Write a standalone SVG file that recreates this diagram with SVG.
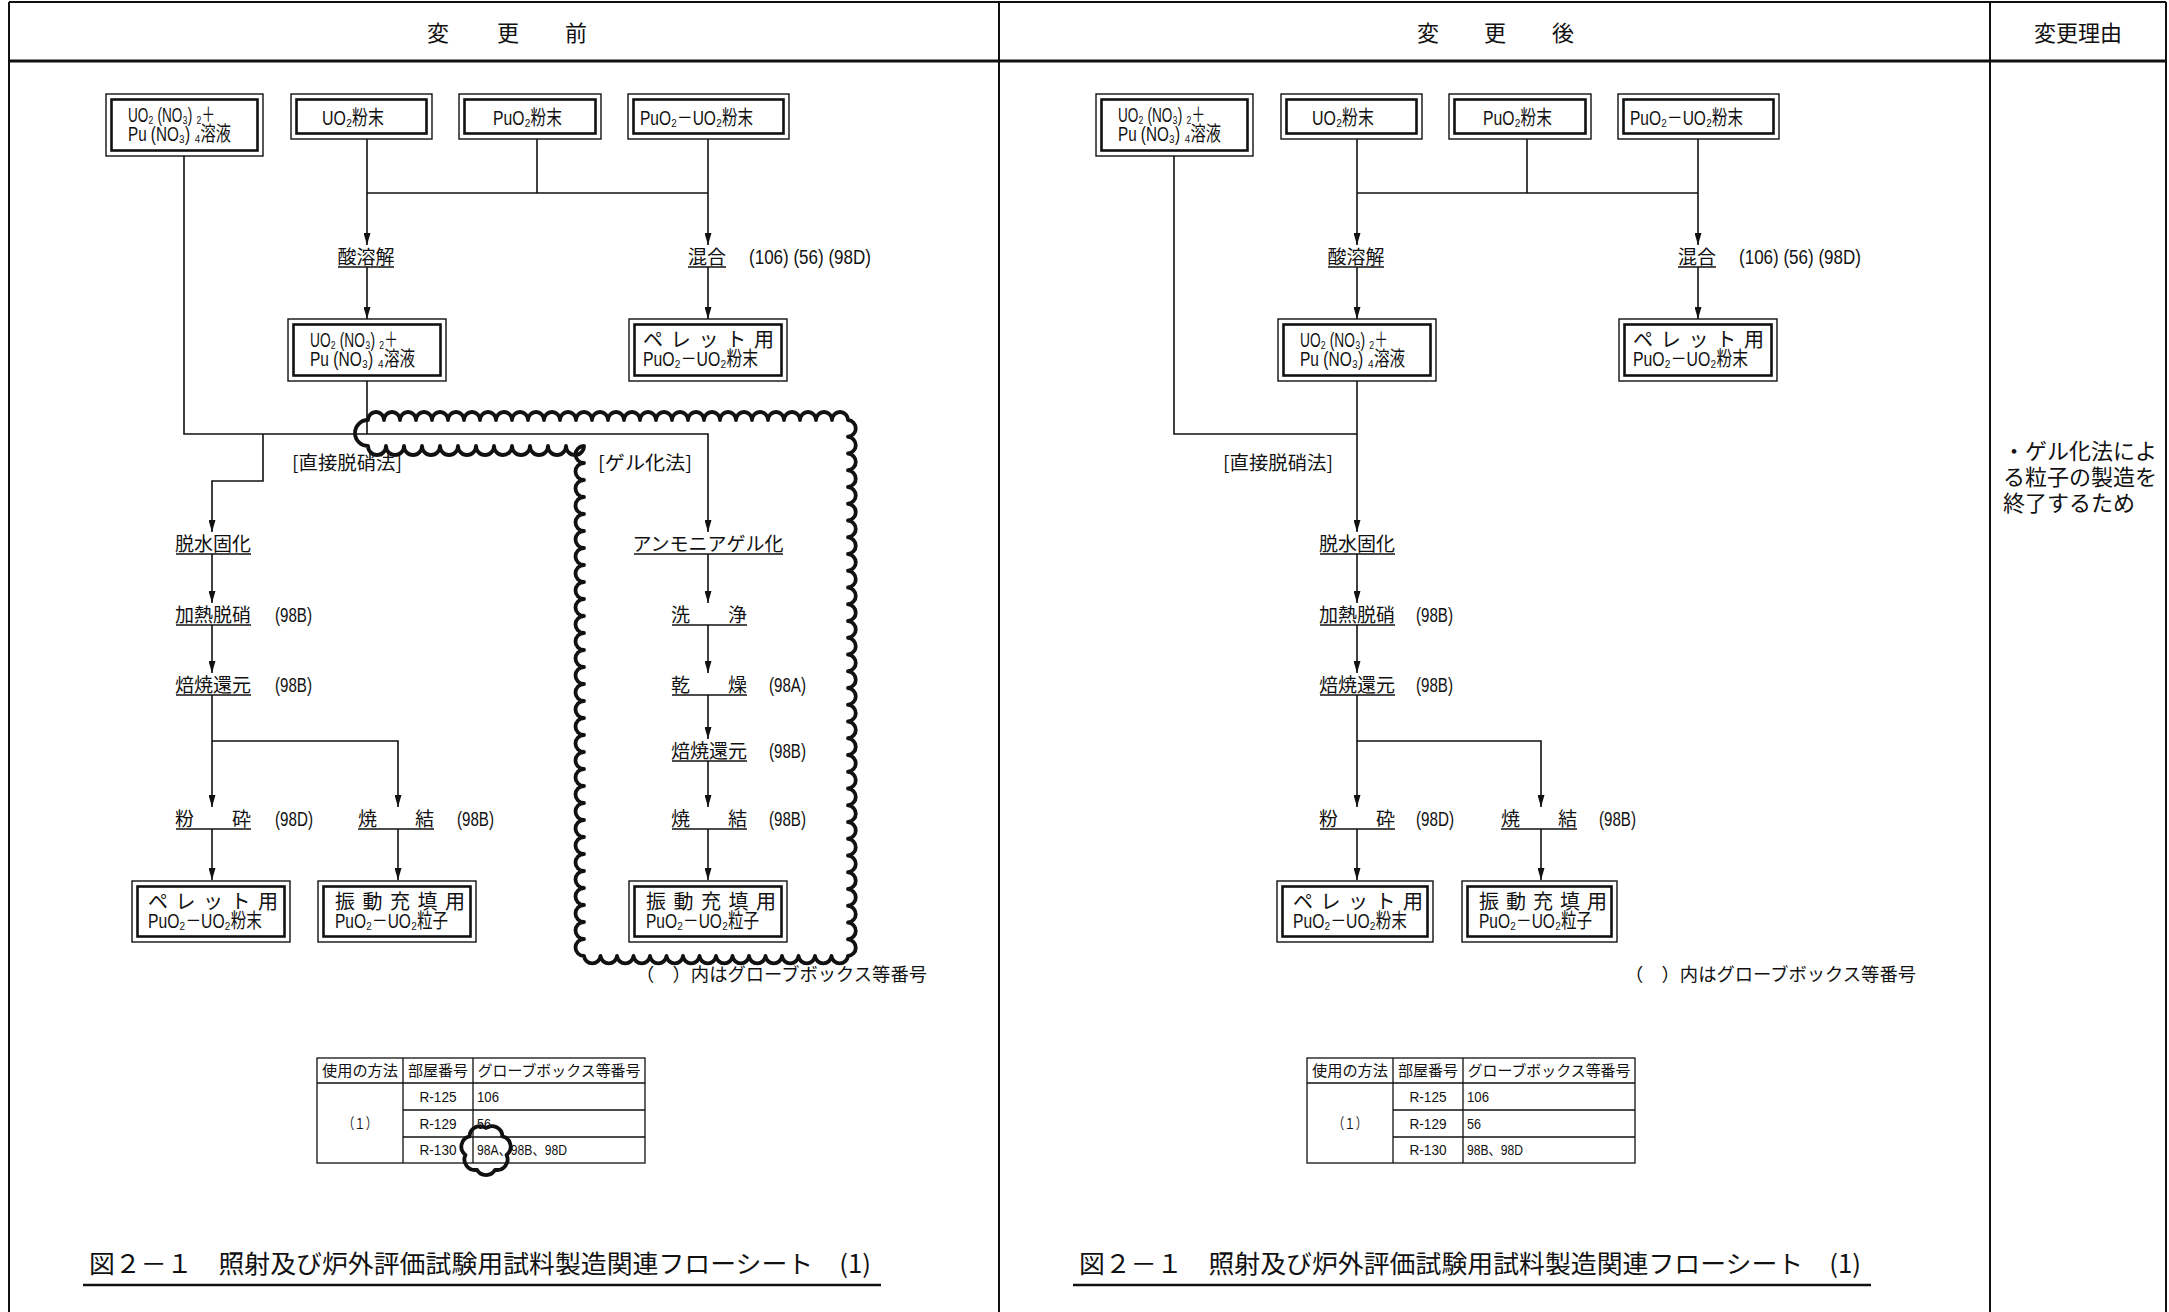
<svg xmlns="http://www.w3.org/2000/svg" width="2169" height="1312" viewBox="0 0 2169 1312">
<defs>
<style>
.fr{fill:none;stroke:#111;stroke-width:2}
.bo{fill:#fff;stroke:#111;stroke-width:1.4}
.bi{fill:none;stroke:#111;stroke-width:2.6}
.c{fill:none;stroke:#111;stroke-width:1.6}
.ul{stroke:#111;stroke-width:1.6}
.t{font-family:"Liberation Sans","DejaVu Sans","Noto Sans CJK JP",sans-serif;fill:#111}
.j{font-family:"Noto Sans CJK JP","Noto Sans",sans-serif;fill:#111}
.lb{font-size:19px}
.bx{font-size:20px}
.cd{font-size:20px}
.hd{font-size:22px}
.tb{font-size:15px}
.cap{font-size:25px}
.cl{fill:none;stroke:#111;stroke-width:3.8;stroke-linejoin:round}
.tl{fill:none;stroke:#111;stroke-width:1.3}
</style>
<marker id="ah" viewBox="0 0 12 7" refX="12" refY="3.5" markerWidth="12" markerHeight="7" markerUnits="userSpaceOnUse" orient="auto"><path d="M0,0 L12,3.5 L0,7 z" fill="#111"/></marker>
</defs>
<rect width="2169" height="1312" fill="#fff"/>

<g id="frame">
<path class="fr" d="M9,2 H2166 M9,2 V1312 M999,2 V1312 M1990,2 V1312 M2166,2 V1312"/>
<path d="M9,61 H2166" stroke="#111" stroke-width="3"/>
<text class="j hd" x="438 508 576" y="41" text-anchor="middle">変更前</text>
<text class="j hd" x="1428 1495 1563" y="41" text-anchor="middle">変更後</text>
<text class="j hd" x="2078" y="41" text-anchor="middle">変更理由</text>
</g>

<g id="reason">
<text class="j hd" x="2003" y="459">・ゲル化法によ</text>
<text class="j hd" x="2003" y="485">る粒子の製造を</text>
<text class="j hd" x="2003" y="511">終了するため</text>
</g>

<!-- ===== BEFORE ===== -->
<g id="connectors-before" class="c">
<path d="M367,139 V245" marker-end="url(#ah)"/>
<path d="M537,139 V193"/>
<path d="M708,139 V245" marker-end="url(#ah)"/>
<path d="M367,193 H708"/>
<path d="M367,267 V319" marker-end="url(#ah)"/>
<path d="M708,267 V319" marker-end="url(#ah)"/>
<path d="M184,156 V434 H708 V532" marker-end="url(#ah)"/>
<path d="M367,381 V434"/>
<path d="M263,434 V481 H212 V532" marker-end="url(#ah)"/>
<path d="M212,554 V603" marker-end="url(#ah)"/>
<path d="M212,625 V673" marker-end="url(#ah)"/>
<path d="M212,695 V807" marker-end="url(#ah)"/>
<path d="M212,741 H398 V807" marker-end="url(#ah)"/>
<path d="M212,829 V880" marker-end="url(#ah)"/>
<path d="M398,829 V880" marker-end="url(#ah)"/>
<path d="M708,554 V603" marker-end="url(#ah)"/>
<path d="M708,625 V673" marker-end="url(#ah)"/>
<path d="M708,695 V739" marker-end="url(#ah)"/>
<path d="M708,761 V807" marker-end="url(#ah)"/>
<path d="M708,829 V880" marker-end="url(#ah)"/>
</g>

<g id="b-solution-in">
<rect class="bo" x="106" y="94" width="157" height="62"/><rect class="bi" x="111.5" y="99.5" width="146" height="51"/>
<text class="t bx" x="128" y="122" textLength="87" lengthAdjust="spacingAndGlyphs">UO₂ (NO₃) ₂＋</text>
<text class="t bx" x="128" y="141" textLength="103" lengthAdjust="spacingAndGlyphs">Pu (NO₃) ₄溶液</text>
</g>
<g id="b-uo2">
<rect class="bo" x="291" y="94" width="141" height="45"/><rect class="bi" x="296.5" y="99.5" width="130" height="34"/>
<text class="t bx" x="322" y="125" textLength="62" lengthAdjust="spacingAndGlyphs">UO₂粉末</text>
</g>
<g id="b-puo2">
<rect class="bo" x="459" y="94" width="142" height="45"/><rect class="bi" x="464.5" y="99.5" width="131" height="34"/>
<text class="t bx" x="493" y="125" textLength="69" lengthAdjust="spacingAndGlyphs">PuO₂粉末</text>
</g>
<g id="b-mox">
<rect class="bo" x="628" y="94" width="161" height="45"/><rect class="bi" x="633.5" y="99.5" width="150" height="34"/>
<text class="t bx" x="640" y="125" textLength="113" lengthAdjust="spacingAndGlyphs">PuO₂－UO₂粉末</text>
</g>
<g id="b-dissolve">
<text class="j lb" x="366" y="264" text-anchor="middle">酸溶解</text>
<line class="ul" x1="338" y1="267" x2="394" y2="267"/>
</g>
<g id="b-mix">
<text class="j lb" x="707" y="264" text-anchor="middle">混合</text>
<line class="ul" x1="688" y1="267" x2="726" y2="267"/>
<text class="t cd" x="749" y="264" textLength="122" lengthAdjust="spacingAndGlyphs">(106) (56) (98D)</text>
</g>
<g id="b-solution">
<rect class="bo" x="288" y="319" width="158" height="62"/><rect class="bi" x="293.5" y="324.5" width="147" height="51"/>
<text class="t bx" x="310" y="347" textLength="88" lengthAdjust="spacingAndGlyphs">UO₂ (NO₃) ₂＋</text>
<text class="t bx" x="310" y="366" textLength="105" lengthAdjust="spacingAndGlyphs">Pu (NO₃) ₄溶液</text>
</g>
<g id="b-pellet-powder-top">
<rect class="bo" x="629" y="319" width="158" height="62"/><rect class="bi" x="634.5" y="324.5" width="147" height="51"/>
<text class="j bx" x="643" y="347" textLength="131" lengthAdjust="spacing">ペレット用</text>
<text class="t bx" x="643" y="366" textLength="115" lengthAdjust="spacingAndGlyphs">PuO₂－UO₂粉末</text>
</g>
<g id="b-direct-label"><text class="j lb" x="292" y="470" textLength="110" lengthAdjust="spacingAndGlyphs">[直接脱硝法]</text></g>
<g id="b-gel-label"><text class="j lb" x="598" y="470" textLength="94" lengthAdjust="spacingAndGlyphs">[ゲル化法]</text></g>

<g id="b-dehydrate">
<text class="j lb" x="213" y="551" text-anchor="middle">脱水固化</text>
<line class="ul" x1="176" y1="554" x2="251" y2="554"/>
</g>
<g id="b-denitrate">
<text class="j lb" x="213" y="622" text-anchor="middle">加熱脱硝</text>
<line class="ul" x1="176" y1="625" x2="251" y2="625"/>
<text class="t cd" x="275" y="622" textLength="37" lengthAdjust="spacingAndGlyphs">(98B)</text>
</g>
<g id="b-reduce">
<text class="j lb" x="213" y="692" text-anchor="middle">焙焼還元</text>
<line class="ul" x1="176" y1="695" x2="251" y2="695"/>
<text class="t cd" x="275" y="692" textLength="37" lengthAdjust="spacingAndGlyphs">(98B)</text>
</g>
<g id="b-crush">
<text class="j lb" x="213" y="826" text-anchor="middle">粉　　砕</text>
<line class="ul" x1="176" y1="829" x2="251" y2="829"/>
<text class="t cd" x="275" y="826" textLength="38" lengthAdjust="spacingAndGlyphs">(98D)</text>
</g>
<g id="b-sinter">
<text class="j lb" x="396" y="826" text-anchor="middle">焼　　結</text>
<line class="ul" x1="358" y1="829" x2="434" y2="829"/>
<text class="t cd" x="457" y="826" textLength="37" lengthAdjust="spacingAndGlyphs">(98B)</text>
</g>
<g id="b-pellet-powder">
<rect class="bo" x="132" y="881" width="158" height="61"/><rect class="bi" x="137.5" y="886.5" width="147" height="50"/>
<text class="j bx" x="148" y="909" textLength="130" lengthAdjust="spacing">ペレット用</text>
<text class="t bx" x="148" y="928" textLength="114" lengthAdjust="spacingAndGlyphs">PuO₂－UO₂粉末</text>
</g>
<g id="b-vib-particle">
<rect class="bo" x="318" y="881" width="158" height="61"/><rect class="bi" x="323.5" y="886.5" width="147" height="50"/>
<text class="j bx" x="335" y="909" textLength="130" lengthAdjust="spacing">振動充填用</text>
<text class="t bx" x="335" y="928" textLength="113" lengthAdjust="spacingAndGlyphs">PuO₂－UO₂粒子</text>
</g>

<g id="b-gel">
<text class="j lb" x="708" y="551" text-anchor="middle">アンモニアゲル化</text>
<line class="ul" x1="634" y1="554" x2="783" y2="554"/>
</g>
<g id="b-wash">
<text class="j lb" x="709" y="622" text-anchor="middle">洗　　浄</text>
<line class="ul" x1="672" y1="625" x2="747" y2="625"/>
</g>
<g id="b-dry">
<text class="j lb" x="709" y="692" text-anchor="middle">乾　　燥</text>
<line class="ul" x1="672" y1="695" x2="747" y2="695"/>
<text class="t cd" x="769" y="692" textLength="37" lengthAdjust="spacingAndGlyphs">(98A)</text>
</g>
<g id="b-gel-reduce">
<text class="j lb" x="709" y="758" text-anchor="middle">焙焼還元</text>
<line class="ul" x1="672" y1="761" x2="747" y2="761"/>
<text class="t cd" x="769" y="758" textLength="37" lengthAdjust="spacingAndGlyphs">(98B)</text>
</g>
<g id="b-gel-sinter">
<text class="j lb" x="709" y="826" text-anchor="middle">焼　　結</text>
<line class="ul" x1="672" y1="829" x2="747" y2="829"/>
<text class="t cd" x="769" y="826" textLength="37" lengthAdjust="spacingAndGlyphs">(98B)</text>
</g>
<g id="b-gel-particle">
<rect class="bo" x="629" y="881" width="158" height="61"/><rect class="bi" x="634.5" y="886.5" width="147" height="50"/>
<text class="j bx" x="646" y="909" textLength="130" lengthAdjust="spacing">振動充填用</text>
<text class="t bx" x="646" y="928" textLength="113" lengthAdjust="spacingAndGlyphs">PuO₂－UO₂粒子</text>
</g>

<g id="b-revision-cloud">
<path class="cl" d="M368,420 a8 8 0 0 1 16 0 8 8 0 0 1 16 0 8 8 0 0 1 16 0 8 8 0 0 1 16 0 8 8 0 0 1 16 0 8 8 0 0 1 16 0 8 8 0 0 1 16 0 8 8 0 0 1 16 0 8 8 0 0 1 16 0 8 8 0 0 1 16 0 8 8 0 0 1 16 0 8 8 0 0 1 16 0 8 8 0 0 1 16 0 8 8 0 0 1 16 0 8 8 0 0 1 16 0 8 8 0 0 1 16 0 8 8 0 0 1 16 0 8 8 0 0 1 16 0 8 8 0 0 1 16 0 8 8 0 0 1 16 0 8 8 0 0 1 16 0 8 8 0 0 1 16 0 8 8 0 0 1 16 0 8 8 0 0 1 16 0 8 8 0 0 1 16 0 8 8 0 0 1 16 0 8 8 0 0 1 16 0 8 8 0 0 1 16 0 8 8 0 0 1 16 0 8 8 0 0 1 16 0
a8.4 8.4 0 0 1 0 16.75 8.4 8.4 0 0 1 0 16.75 8.4 8.4 0 0 1 0 16.75 8.4 8.4 0 0 1 0 16.75 8.4 8.4 0 0 1 0 16.75 8.4 8.4 0 0 1 0 16.75 8.4 8.4 0 0 1 0 16.75 8.4 8.4 0 0 1 0 16.75 8.4 8.4 0 0 1 0 16.75 8.4 8.4 0 0 1 0 16.75 8.4 8.4 0 0 1 0 16.75 8.4 8.4 0 0 1 0 16.75 8.4 8.4 0 0 1 0 16.75 8.4 8.4 0 0 1 0 16.75 8.4 8.4 0 0 1 0 16.75 8.4 8.4 0 0 1 0 16.75 8.4 8.4 0 0 1 0 16.75 8.4 8.4 0 0 1 0 16.75 8.4 8.4 0 0 1 0 16.75 8.4 8.4 0 0 1 0 16.75 8.4 8.4 0 0 1 0 16.75 8.4 8.4 0 0 1 0 16.75 8.4 8.4 0 0 1 0 16.75 8.4 8.4 0 0 1 0 16.75 8.4 8.4 0 0 1 0 16.75 8.4 8.4 0 0 1 0 16.75 8.4 8.4 0 0 1 0 16.75 8.4 8.4 0 0 1 0 16.75 8.4 8.4 0 0 1 0 16.75 8.4 8.4 0 0 1 0 16.75 8.4 8.4 0 0 1 0 16.75 8.4 8.4 0 0 1 0 16.75
a8.3 8.3 0 0 1 -16.5 0 8.3 8.3 0 0 1 -16.5 0 8.3 8.3 0 0 1 -16.5 0 8.3 8.3 0 0 1 -16.5 0 8.3 8.3 0 0 1 -16.5 0 8.3 8.3 0 0 1 -16.5 0 8.3 8.3 0 0 1 -16.5 0 8.3 8.3 0 0 1 -16.5 0 8.3 8.3 0 0 1 -16.5 0 8.3 8.3 0 0 1 -16.5 0 8.3 8.3 0 0 1 -16.5 0 8.3 8.3 0 0 1 -16.5 0 8.3 8.3 0 0 1 -16.5 0 8.3 8.3 0 0 1 -16.5 0 8.3 8.3 0 0 1 -16.5 0 8.3 8.3 0 0 1 -16.5 0
a8.5 8.5 0 0 1 0 -17 8.5 8.5 0 0 1 0 -17 8.5 8.5 0 0 1 0 -17 8.5 8.5 0 0 1 0 -17 8.5 8.5 0 0 1 0 -17 8.5 8.5 0 0 1 0 -17 8.5 8.5 0 0 1 0 -17 8.5 8.5 0 0 1 0 -17 8.5 8.5 0 0 1 0 -17 8.5 8.5 0 0 1 0 -17 8.5 8.5 0 0 1 0 -17 8.5 8.5 0 0 1 0 -17 8.5 8.5 0 0 1 0 -17 8.5 8.5 0 0 1 0 -17 8.5 8.5 0 0 1 0 -17 8.5 8.5 0 0 1 0 -17 8.5 8.5 0 0 1 0 -17 8.5 8.5 0 0 1 0 -17 8.5 8.5 0 0 1 0 -17 8.5 8.5 0 0 1 0 -17 8.5 8.5 0 0 1 0 -17 8.5 8.5 0 0 1 0 -17 8.5 8.5 0 0 1 0 -17 8.5 8.5 0 0 1 0 -17 8.5 8.5 0 0 1 0 -17 8.5 8.5 0 0 1 0 -17 8.5 8.5 0 0 1 0 -17 8.5 8.5 0 0 1 0 -17 8.5 8.5 0 0 1 0 -17 8.5 8.5 0 0 1 0 -17
a9 9 0 0 1 -18 0 9 9 0 0 1 -18 0 9 9 0 0 1 -18 0 9 9 0 0 1 -18 0 9 9 0 0 1 -18 0 9 9 0 0 1 -18 0 9 9 0 0 1 -18 0 9 9 0 0 1 -18 0 9 9 0 0 1 -18 0 9 9 0 0 1 -18 0 9 9 0 0 1 -18 0 9 9 0 0 1 -18 0
a13 13 0 0 1 0 -26 Z"/>
</g>

<g id="b-note"><text class="j" font-size="18" x="636" y="981" textLength="291" lengthAdjust="spacingAndGlyphs">（　）内はグローブボックス等番号</text></g>

<g id="b-table">
<rect class="tl" x="317" y="1058" width="328" height="105"/>
<path class="tl" d="M403,1058 V1163 M473,1058 V1163 M317,1083 H645 M403,1110 H645 M403,1137 H645"/>
<text class="j tb" x="360" y="1076" text-anchor="middle" textLength="76" lengthAdjust="spacingAndGlyphs">使用の方法</text>
<text class="j tb" x="438" y="1076" text-anchor="middle" textLength="60" lengthAdjust="spacingAndGlyphs">部屋番号</text>
<text class="j tb" x="559" y="1076" text-anchor="middle" textLength="163" lengthAdjust="spacingAndGlyphs">グローブボックス等番号</text>
<text class="j tb" x="360" y="1129" text-anchor="middle" textLength="34" lengthAdjust="spacingAndGlyphs">（１）</text>
<text class="t tb" x="438" y="1102" text-anchor="middle" textLength="37" lengthAdjust="spacingAndGlyphs">R-125</text>
<text class="t tb" x="438" y="1129" text-anchor="middle" textLength="37" lengthAdjust="spacingAndGlyphs">R-129</text>
<text class="t tb" x="438" y="1155" text-anchor="middle" textLength="37" lengthAdjust="spacingAndGlyphs">R-130</text>
<text class="t tb" x="477" y="1102" textLength="22" lengthAdjust="spacingAndGlyphs">106</text>
<text class="t tb" x="477" y="1129" textLength="14" lengthAdjust="spacingAndGlyphs">56</text>
<text class="t tb" x="477" y="1155" textLength="90" lengthAdjust="spacingAndGlyphs">98A、98B、98D</text>
<path class="cl" stroke-width="3.2" d="M486,1128 A10.5 10.5 0 0 1 502.4,1136.3 A10.5 10.5 0 0 1 506.5,1154.9 A10.5 10.5 0 0 1 495.1,1169.8 A10.5 10.5 0 0 1 476.9,1169.8 A10.5 10.5 0 0 1 465.5,1154.9 A10.5 10.5 0 0 1 469.6,1136.3 A10.5 10.5 0 0 1 486,1128 Z"/>
</g>

<g id="b-caption">
<text class="j cap" x="89" y="1273" textLength="782" lengthAdjust="spacingAndGlyphs">図２－１　照射及び炉外評価試験用試料製造関連フローシート　(1)</text>
<line x1="83" y1="1285" x2="881" y2="1285" stroke="#111" stroke-width="2.5"/>
</g>

<!-- ===== AFTER ===== -->
<g id="connectors-after" class="c">
<path d="M1357,139 V245" marker-end="url(#ah)"/>
<path d="M1527,139 V193"/>
<path d="M1698,139 V245" marker-end="url(#ah)"/>
<path d="M1357,193 H1698"/>
<path d="M1357,267 V319" marker-end="url(#ah)"/>
<path d="M1698,267 V319" marker-end="url(#ah)"/>
<path d="M1174,156 V434 H1357"/>
<path d="M1357,381 V532" marker-end="url(#ah)"/>
<path d="M1357,554 V603" marker-end="url(#ah)"/>
<path d="M1357,625 V673" marker-end="url(#ah)"/>
<path d="M1357,695 V807" marker-end="url(#ah)"/>
<path d="M1357,741 H1541 V807" marker-end="url(#ah)"/>
<path d="M1357,829 V880" marker-end="url(#ah)"/>
<path d="M1541,829 V880" marker-end="url(#ah)"/>
</g>

<g id="a-solution-in">
<rect class="bo" x="1096" y="94" width="157" height="62"/><rect class="bi" x="1101.5" y="99.5" width="146" height="51"/>
<text class="t bx" x="1118" y="122" textLength="87" lengthAdjust="spacingAndGlyphs">UO₂ (NO₃) ₂＋</text>
<text class="t bx" x="1118" y="141" textLength="103" lengthAdjust="spacingAndGlyphs">Pu (NO₃) ₄溶液</text>
</g>
<g id="a-uo2">
<rect class="bo" x="1281" y="94" width="141" height="45"/><rect class="bi" x="1286.5" y="99.5" width="130" height="34"/>
<text class="t bx" x="1312" y="125" textLength="62" lengthAdjust="spacingAndGlyphs">UO₂粉末</text>
</g>
<g id="a-puo2">
<rect class="bo" x="1449" y="94" width="142" height="45"/><rect class="bi" x="1454.5" y="99.5" width="131" height="34"/>
<text class="t bx" x="1483" y="125" textLength="69" lengthAdjust="spacingAndGlyphs">PuO₂粉末</text>
</g>
<g id="a-mox">
<rect class="bo" x="1618" y="94" width="161" height="45"/><rect class="bi" x="1623.5" y="99.5" width="150" height="34"/>
<text class="t bx" x="1630" y="125" textLength="113" lengthAdjust="spacingAndGlyphs">PuO₂－UO₂粉末</text>
</g>
<g id="a-dissolve">
<text class="j lb" x="1356" y="264" text-anchor="middle">酸溶解</text>
<line class="ul" x1="1328" y1="267" x2="1384" y2="267"/>
</g>
<g id="a-mix">
<text class="j lb" x="1697" y="264" text-anchor="middle">混合</text>
<line class="ul" x1="1678" y1="267" x2="1716" y2="267"/>
<text class="t cd" x="1739" y="264" textLength="122" lengthAdjust="spacingAndGlyphs">(106) (56) (98D)</text>
</g>
<g id="a-solution">
<rect class="bo" x="1278" y="319" width="158" height="62"/><rect class="bi" x="1283.5" y="324.5" width="147" height="51"/>
<text class="t bx" x="1300" y="347" textLength="88" lengthAdjust="spacingAndGlyphs">UO₂ (NO₃) ₂＋</text>
<text class="t bx" x="1300" y="366" textLength="105" lengthAdjust="spacingAndGlyphs">Pu (NO₃) ₄溶液</text>
</g>
<g id="a-pellet-powder-top">
<rect class="bo" x="1619" y="319" width="158" height="62"/><rect class="bi" x="1624.5" y="324.5" width="147" height="51"/>
<text class="j bx" x="1633" y="347" textLength="131" lengthAdjust="spacing">ペレット用</text>
<text class="t bx" x="1633" y="366" textLength="115" lengthAdjust="spacingAndGlyphs">PuO₂－UO₂粉末</text>
</g>
<g id="a-direct-label"><text class="j lb" x="1223" y="470" textLength="110" lengthAdjust="spacingAndGlyphs">[直接脱硝法]</text></g>
<g id="a-dehydrate">
<text class="j lb" x="1357" y="551" text-anchor="middle">脱水固化</text>
<line class="ul" x1="1320" y1="554" x2="1395" y2="554"/>
</g>
<g id="a-denitrate">
<text class="j lb" x="1357" y="622" text-anchor="middle">加熱脱硝</text>
<line class="ul" x1="1320" y1="625" x2="1395" y2="625"/>
<text class="t cd" x="1416" y="622" textLength="37" lengthAdjust="spacingAndGlyphs">(98B)</text>
</g>
<g id="a-reduce">
<text class="j lb" x="1357" y="692" text-anchor="middle">焙焼還元</text>
<line class="ul" x1="1320" y1="695" x2="1395" y2="695"/>
<text class="t cd" x="1416" y="692" textLength="37" lengthAdjust="spacingAndGlyphs">(98B)</text>
</g>
<g id="a-crush">
<text class="j lb" x="1357" y="826" text-anchor="middle">粉　　砕</text>
<line class="ul" x1="1320" y1="829" x2="1395" y2="829"/>
<text class="t cd" x="1416" y="826" textLength="38" lengthAdjust="spacingAndGlyphs">(98D)</text>
</g>
<g id="a-sinter">
<text class="j lb" x="1539" y="826" text-anchor="middle">焼　　結</text>
<line class="ul" x1="1501" y1="829" x2="1577" y2="829"/>
<text class="t cd" x="1599" y="826" textLength="37" lengthAdjust="spacingAndGlyphs">(98B)</text>
</g>
<g id="a-pellet-powder">
<rect class="bo" x="1277" y="881" width="156" height="61"/><rect class="bi" x="1282.5" y="886.5" width="145" height="50"/>
<text class="j bx" x="1293" y="909" textLength="130" lengthAdjust="spacing">ペレット用</text>
<text class="t bx" x="1293" y="928" textLength="114" lengthAdjust="spacingAndGlyphs">PuO₂－UO₂粉末</text>
</g>
<g id="a-vib-particle">
<rect class="bo" x="1462" y="881" width="155" height="61"/><rect class="bi" x="1467.5" y="886.5" width="144" height="50"/>
<text class="j bx" x="1479" y="909" textLength="128" lengthAdjust="spacing">振動充填用</text>
<text class="t bx" x="1479" y="928" textLength="113" lengthAdjust="spacingAndGlyphs">PuO₂－UO₂粒子</text>
</g>

<g id="a-note"><text class="j" font-size="18" x="1625" y="981" textLength="291" lengthAdjust="spacingAndGlyphs">（　）内はグローブボックス等番号</text></g>

<g id="a-table">
<rect class="tl" x="1307" y="1058" width="328" height="105"/>
<path class="tl" d="M1393,1058 V1163 M1463,1058 V1163 M1307,1083 H1635 M1393,1110 H1635 M1393,1137 H1635"/>
<text class="j tb" x="1350" y="1076" text-anchor="middle" textLength="76" lengthAdjust="spacingAndGlyphs">使用の方法</text>
<text class="j tb" x="1428" y="1076" text-anchor="middle" textLength="60" lengthAdjust="spacingAndGlyphs">部屋番号</text>
<text class="j tb" x="1549" y="1076" text-anchor="middle" textLength="163" lengthAdjust="spacingAndGlyphs">グローブボックス等番号</text>
<text class="j tb" x="1350" y="1129" text-anchor="middle" textLength="34" lengthAdjust="spacingAndGlyphs">（１）</text>
<text class="t tb" x="1428" y="1102" text-anchor="middle" textLength="37" lengthAdjust="spacingAndGlyphs">R-125</text>
<text class="t tb" x="1428" y="1129" text-anchor="middle" textLength="37" lengthAdjust="spacingAndGlyphs">R-129</text>
<text class="t tb" x="1428" y="1155" text-anchor="middle" textLength="37" lengthAdjust="spacingAndGlyphs">R-130</text>
<text class="t tb" x="1467" y="1102" textLength="22" lengthAdjust="spacingAndGlyphs">106</text>
<text class="t tb" x="1467" y="1129" textLength="14" lengthAdjust="spacingAndGlyphs">56</text>
<text class="t tb" x="1467" y="1155" textLength="56" lengthAdjust="spacingAndGlyphs">98B、98D</text>
</g>

<g id="a-caption">
<text class="j cap" x="1079" y="1273" textLength="782" lengthAdjust="spacingAndGlyphs">図２－１　照射及び炉外評価試験用試料製造関連フローシート　(1)</text>
<line x1="1073" y1="1285" x2="1871" y2="1285" stroke="#111" stroke-width="2.5"/>
</g>
</svg>
